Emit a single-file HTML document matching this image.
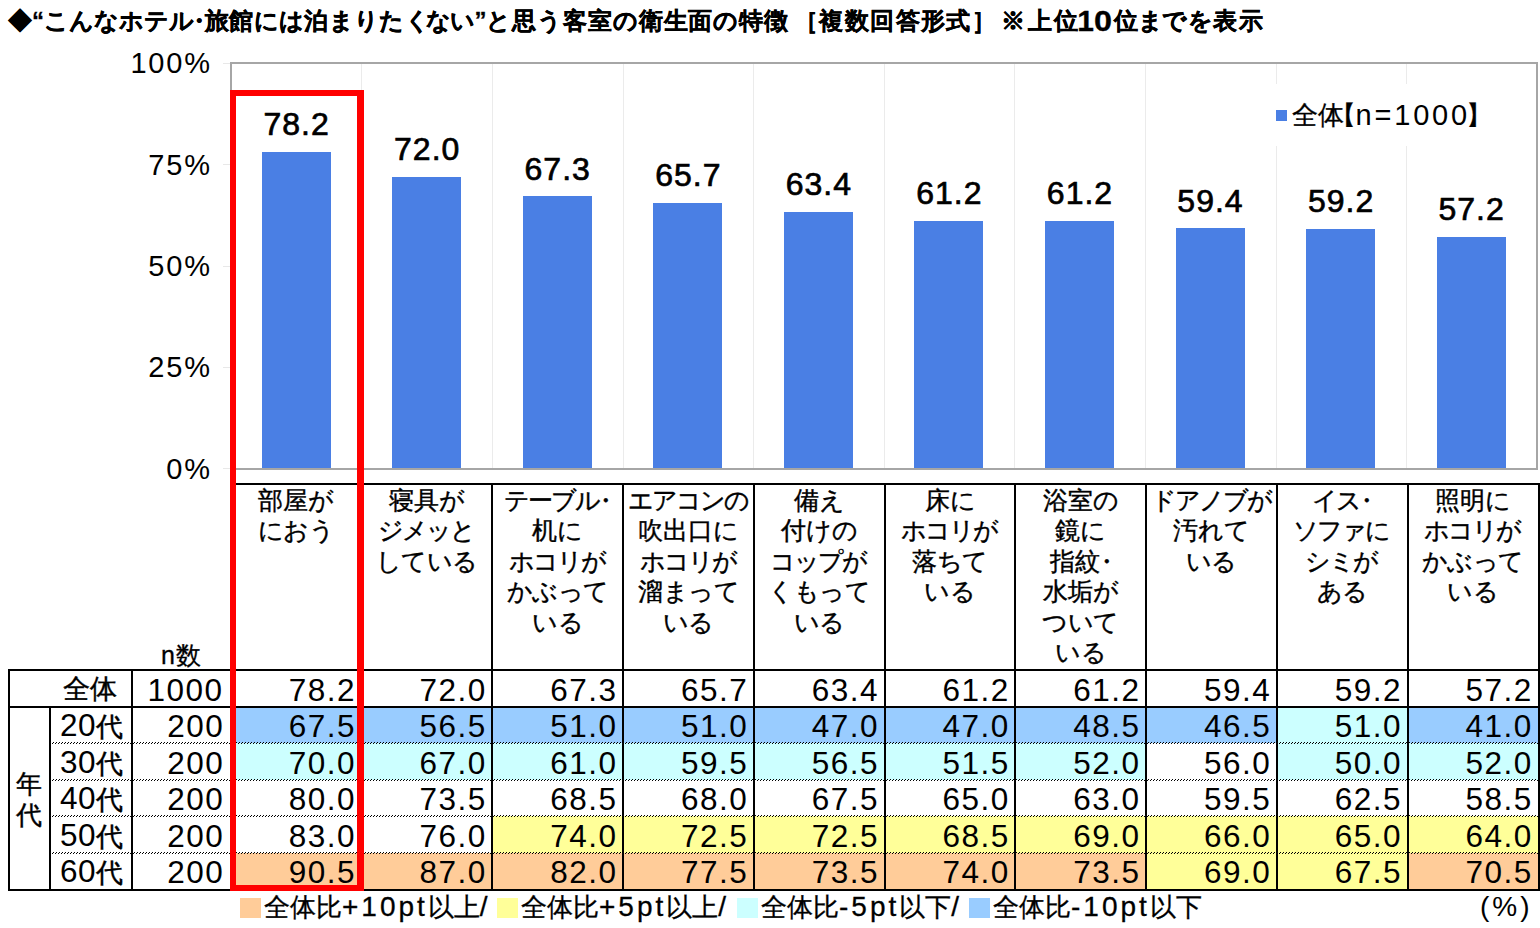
<!DOCTYPE html>
<html><head><meta charset="utf-8"><style>
html,body{margin:0;padding:0;background:#fff;}
body{width:1540px;height:928px;position:relative;overflow:hidden;font-family:"Liberation Sans",sans-serif;color:#000;}
.a{position:absolute;white-space:nowrap;}
.t{position:absolute;white-space:nowrap;font-size:24px;font-weight:bold;line-height:32px;top:5px;-webkit-text-stroke:0.3px #000;}
.yl{position:absolute;font-size:29px;line-height:30px;text-align:right;letter-spacing:1.8px;width:120px;}
.dl{position:absolute;font-size:32px;line-height:34px;text-align:center;width:130px;letter-spacing:1px;-webkit-text-stroke:0.7px #000;}
.bar{position:absolute;background:#4A7FE4;}
.gl{position:absolute;background:#EBEBEB;width:1px;}
.hl{position:absolute;background:#000;}
.cat{position:absolute;top:486px;font-size:24.5px;line-height:30.4px;text-align:center;width:130px;-webkit-text-stroke:0.4px #000;}
.num{position:absolute;font-size:31.5px;line-height:36px;text-align:right;letter-spacing:1.5px;}
.jp{position:absolute;font-size:26.5px;line-height:36px;text-align:right;-webkit-text-stroke:0.4px #000;}
.dot{position:absolute;height:1px;background-image:linear-gradient(90deg,#000 0 1px,transparent 1px 3px);background-size:3px 1px;background-repeat:repeat-x;}
.lg{position:absolute;top:892px;font-size:26px;line-height:30px;-webkit-text-stroke:0.3px #000;}
.L{font-size:28px;letter-spacing:3px;}
</style></head><body>

<div class="t" style="left:8px;">◆“こんなホテル</div>
<div class="t" style="left:187px;">・</div>
<div class="t" style="left:205px;letter-spacing:0.32px">旅館には泊まりたく</div>
<div class="t" style="left:425.6px;letter-spacing:-0.5px">ない”</div>
<div class="t" style="left:486px;letter-spacing:0.93px">と思う客室の衛生面の特徴</div>
<div class="t" style="left:794px;letter-spacing:1.4px">［複数回答形式］</div>
<div class="t" style="left:1001px;letter-spacing:2.5px">※上位</div>
<div class="t" style="left:1077.2px;font-size:30px;top:5px">1</div>
<div class="t" style="left:1093.8px;font-size:30px;top:5px;transform:scaleX(1.08);transform-origin:0 0">0</div>
<div class="t" style="left:1113.5px">位</div>
<div class="t" style="left:1138px">ま</div>
<div class="t" style="left:1162.3px">で</div>
<div class="t" style="left:1188.2px">を</div>
<div class="t" style="left:1212.5px;letter-spacing:2px">表示</div>
<div class="yl" style="left:91.8px;top:48.4px">100%</div>
<div class="a" style="left:223px;top:62.9px;width:8px;height:1px;background:#E8E8E8"></div>
<div class="yl" style="left:91.8px;top:149.8px">75%</div>
<div class="a" style="left:223px;top:164.2px;width:8px;height:1px;background:#E8E8E8"></div>
<div class="yl" style="left:91.8px;top:251.1px">50%</div>
<div class="a" style="left:223px;top:265.6px;width:8px;height:1px;background:#E8E8E8"></div>
<div class="yl" style="left:91.8px;top:352.4px">25%</div>
<div class="a" style="left:223px;top:366.9px;width:8px;height:1px;background:#E8E8E8"></div>
<div class="yl" style="left:91.8px;top:453.8px">0%</div>
<div class="a" style="left:223px;top:468.3px;width:8px;height:1px;background:#E8E8E8"></div>
<div class="gl" style="left:361.1px;top:63.4px;height:405.4px"></div>
<div class="gl" style="left:491.8px;top:63.4px;height:405.4px"></div>
<div class="gl" style="left:622.5px;top:63.4px;height:405.4px"></div>
<div class="gl" style="left:753.1px;top:63.4px;height:405.4px"></div>
<div class="gl" style="left:883.8px;top:63.4px;height:405.4px"></div>
<div class="gl" style="left:1014.4px;top:63.4px;height:405.4px"></div>
<div class="gl" style="left:1145.1px;top:63.4px;height:405.4px"></div>
<div class="gl" style="left:1275.7px;top:63.4px;height:405.4px"></div>
<div class="gl" style="left:1406.4px;top:63.4px;height:405.4px"></div>
<div class="a" style="left:230px;top:61.5px;width:1308px;height:2px;background:#A6A6A6"></div>
<div class="a" style="left:230px;top:61.5px;width:1.6px;height:407px;background:#A6A6A6"></div>
<div class="a" style="left:1536px;top:61.5px;width:2px;height:407px;background:#A6A6A6"></div>
<div class="a" style="left:1262px;top:84.3px;width:230px;height:62px;background:#fff"></div>
<div class="a" style="left:1275.5px;top:110px;width:11.5px;height:11px;background:#4A7FE4"></div>
<div class="a" style="left:1291.5px;top:99.4px;font-size:26px;line-height:32px;-webkit-text-stroke:0.3px #000">全体</div>
<div class="a" style="left:1330px;top:99.4px;font-size:26px;line-height:32px;-webkit-text-stroke:0.3px #000">【</div>
<div class="a" style="left:1355.6px;top:98.7px;font-size:29px;line-height:32px;letter-spacing:2.8px">n=1000</div>
<div class="a" style="left:1466px;top:99.4px;font-size:26px;line-height:32px;-webkit-text-stroke:0.3px #000">】</div>
<div class="bar" style="left:261.6px;top:151.8px;width:69px;height:317.0px"></div>
<div class="dl" style="left:231.6px;top:107.3px">78.2</div>
<div class="bar" style="left:392.2px;top:176.9px;width:69px;height:291.9px"></div>
<div class="dl" style="left:362.2px;top:132.4px">72.0</div>
<div class="bar" style="left:522.7px;top:196.0px;width:69px;height:272.8px"></div>
<div class="dl" style="left:492.7px;top:151.5px">67.3</div>
<div class="bar" style="left:653.3px;top:202.5px;width:69px;height:266.3px"></div>
<div class="dl" style="left:623.3px;top:158.0px">65.7</div>
<div class="bar" style="left:783.8px;top:211.8px;width:69px;height:257.0px"></div>
<div class="dl" style="left:753.8px;top:167.3px">63.4</div>
<div class="bar" style="left:914.4px;top:220.7px;width:69px;height:248.1px"></div>
<div class="dl" style="left:884.4px;top:176.2px">61.2</div>
<div class="bar" style="left:1045.0px;top:220.7px;width:69px;height:248.1px"></div>
<div class="dl" style="left:1015.0px;top:176.2px">61.2</div>
<div class="bar" style="left:1175.5px;top:228.0px;width:69px;height:240.8px"></div>
<div class="dl" style="left:1145.5px;top:183.5px">59.4</div>
<div class="bar" style="left:1306.1px;top:228.8px;width:69px;height:240.0px"></div>
<div class="dl" style="left:1276.1px;top:184.3px">59.2</div>
<div class="bar" style="left:1436.6px;top:236.9px;width:69px;height:231.9px"></div>
<div class="dl" style="left:1406.6px;top:192.4px">57.2</div>
<div class="a" style="left:230px;top:467.6px;width:1308px;height:2px;background:#A6A6A6"></div>
<div class="a" style="left:230.8px;top:706.5px;width:130.7px;height:36.5px;background:#99CCFF"></div>
<div class="a" style="left:361.5px;top:706.5px;width:130.7px;height:36.5px;background:#99CCFF"></div>
<div class="a" style="left:492.3px;top:706.5px;width:130.7px;height:36.5px;background:#99CCFF"></div>
<div class="a" style="left:623.0px;top:706.5px;width:130.7px;height:36.5px;background:#99CCFF"></div>
<div class="a" style="left:753.8px;top:706.5px;width:130.7px;height:36.5px;background:#99CCFF"></div>
<div class="a" style="left:884.5px;top:706.5px;width:130.7px;height:36.5px;background:#99CCFF"></div>
<div class="a" style="left:1015.2px;top:706.5px;width:130.7px;height:36.5px;background:#99CCFF"></div>
<div class="a" style="left:1146.0px;top:706.5px;width:130.7px;height:36.5px;background:#99CCFF"></div>
<div class="a" style="left:1276.7px;top:706.5px;width:130.7px;height:36.5px;background:#CCFFFF"></div>
<div class="a" style="left:1407.5px;top:706.5px;width:130.7px;height:36.5px;background:#99CCFF"></div>
<div class="a" style="left:230.8px;top:743.0px;width:130.7px;height:36.5px;background:#CCFFFF"></div>
<div class="a" style="left:361.5px;top:743.0px;width:130.7px;height:36.5px;background:#CCFFFF"></div>
<div class="a" style="left:492.3px;top:743.0px;width:130.7px;height:36.5px;background:#CCFFFF"></div>
<div class="a" style="left:623.0px;top:743.0px;width:130.7px;height:36.5px;background:#CCFFFF"></div>
<div class="a" style="left:753.8px;top:743.0px;width:130.7px;height:36.5px;background:#CCFFFF"></div>
<div class="a" style="left:884.5px;top:743.0px;width:130.7px;height:36.5px;background:#CCFFFF"></div>
<div class="a" style="left:1015.2px;top:743.0px;width:130.7px;height:36.5px;background:#CCFFFF"></div>
<div class="a" style="left:1276.7px;top:743.0px;width:130.7px;height:36.5px;background:#CCFFFF"></div>
<div class="a" style="left:1407.5px;top:743.0px;width:130.7px;height:36.5px;background:#CCFFFF"></div>
<div class="a" style="left:492.3px;top:816.0px;width:130.7px;height:36.5px;background:#FFFF99"></div>
<div class="a" style="left:623.0px;top:816.0px;width:130.7px;height:36.5px;background:#FFFF99"></div>
<div class="a" style="left:753.8px;top:816.0px;width:130.7px;height:36.5px;background:#FFFF99"></div>
<div class="a" style="left:884.5px;top:816.0px;width:130.7px;height:36.5px;background:#FFFF99"></div>
<div class="a" style="left:1015.2px;top:816.0px;width:130.7px;height:36.5px;background:#FFFF99"></div>
<div class="a" style="left:1146.0px;top:816.0px;width:130.7px;height:36.5px;background:#FFFF99"></div>
<div class="a" style="left:1276.7px;top:816.0px;width:130.7px;height:36.5px;background:#FFFF99"></div>
<div class="a" style="left:1407.5px;top:816.0px;width:130.7px;height:36.5px;background:#FFFF99"></div>
<div class="a" style="left:230.8px;top:852.5px;width:130.7px;height:37.0px;background:#FFCC99"></div>
<div class="a" style="left:361.5px;top:852.5px;width:130.7px;height:37.0px;background:#FFCC99"></div>
<div class="a" style="left:492.3px;top:852.5px;width:130.7px;height:37.0px;background:#FFCC99"></div>
<div class="a" style="left:623.0px;top:852.5px;width:130.7px;height:37.0px;background:#FFCC99"></div>
<div class="a" style="left:753.8px;top:852.5px;width:130.7px;height:37.0px;background:#FFCC99"></div>
<div class="a" style="left:884.5px;top:852.5px;width:130.7px;height:37.0px;background:#FFCC99"></div>
<div class="a" style="left:1015.2px;top:852.5px;width:130.7px;height:37.0px;background:#FFCC99"></div>
<div class="a" style="left:1146.0px;top:852.5px;width:130.7px;height:37.0px;background:#FFFF99"></div>
<div class="a" style="left:1276.7px;top:852.5px;width:130.7px;height:37.0px;background:#FFFF99"></div>
<div class="a" style="left:1407.5px;top:852.5px;width:130.7px;height:37.0px;background:#FFCC99"></div>
<div class="hl" style="left:231.0px;top:483px;width:1308.2px;height:2px"></div>
<div class="hl" style="left:229.8px;top:483px;width:2px;height:407.5px"></div>
<div class="hl" style="left:360.5px;top:483px;width:2px;height:407.5px"></div>
<div class="hl" style="left:491.3px;top:483px;width:2px;height:407.5px"></div>
<div class="hl" style="left:622.0px;top:483px;width:2px;height:407.5px"></div>
<div class="hl" style="left:752.8px;top:483px;width:2px;height:407.5px"></div>
<div class="hl" style="left:883.5px;top:483px;width:2px;height:407.5px"></div>
<div class="hl" style="left:1014.2px;top:483px;width:2px;height:407.5px"></div>
<div class="hl" style="left:1145.0px;top:483px;width:2px;height:407.5px"></div>
<div class="hl" style="left:1275.7px;top:483px;width:2px;height:407.5px"></div>
<div class="hl" style="left:1406.5px;top:483px;width:2px;height:407.5px"></div>
<div class="hl" style="left:1538.0px;top:483px;width:2px;height:407.5px"></div>
<div class="hl" style="left:8.2px;top:669px;width:1531.0px;height:2px"></div>
<div class="hl" style="left:8.2px;top:705.5px;width:1531.0px;height:2px"></div>
<div class="hl" style="left:8.2px;top:888.5px;width:1531.0px;height:2px"></div>
<div class="dot" style="left:50px;top:742.0px;width:1488.2px;"></div>
<div class="dot" style="left:51.5px;top:743.0px;width:1486.7px;"></div>
<div class="dot" style="left:50px;top:778.5px;width:1488.2px;"></div>
<div class="dot" style="left:51.5px;top:779.5px;width:1486.7px;"></div>
<div class="dot" style="left:50px;top:815.0px;width:1488.2px;"></div>
<div class="dot" style="left:51.5px;top:816.0px;width:1486.7px;"></div>
<div class="dot" style="left:50px;top:851.5px;width:1488.2px;"></div>
<div class="dot" style="left:51.5px;top:852.5px;width:1486.7px;"></div>
<div class="hl" style="left:8.2px;top:669px;width:2px;height:221.5px"></div>
<div class="hl" style="left:130.7px;top:669px;width:2px;height:221.5px"></div>
<div class="hl" style="left:48.8px;top:705.5px;width:2px;height:185.0px"></div>
<div class="cat" style="left:230.8px;width:130.7px">部屋<span style="letter-spacing:-0.6px">が</span><br><span style="letter-spacing:-0.6px">に</span><span style="letter-spacing:-0.6px">お</span><span style="letter-spacing:-0.6px">う</span></div>
<div class="cat" style="left:361.5px;width:130.7px">寝具<span style="letter-spacing:-0.6px">が</span><br><span style="letter-spacing:-2px">ジ</span><span style="letter-spacing:-2px">メ</span><span style="letter-spacing:-2px">ッ</span><span style="letter-spacing:-0.6px">と</span><br><span style="letter-spacing:-0.6px">し</span><span style="letter-spacing:-0.6px">て</span><span style="letter-spacing:-0.6px">い</span><span style="letter-spacing:-0.6px">る</span></div>
<div class="cat" style="left:492.3px;width:130.7px"><span style="letter-spacing:-2px">テ</span><span style="letter-spacing:-2px">ー</span><span style="letter-spacing:-2px">ブ</span><span style="letter-spacing:-2px">ル</span><span style="letter-spacing:-7px;margin-left:-6px">・</span><br>机<span style="letter-spacing:-0.6px">に</span><br><span style="letter-spacing:-2px">ホ</span><span style="letter-spacing:-2px">コ</span><span style="letter-spacing:-2px">リ</span><span style="letter-spacing:-0.6px">が</span><br><span style="letter-spacing:-0.6px">か</span><span style="letter-spacing:-0.6px">ぶ</span><span style="letter-spacing:-0.6px">っ</span><span style="letter-spacing:-0.6px">て</span><br><span style="letter-spacing:-0.6px">い</span><span style="letter-spacing:-0.6px">る</span></div>
<div class="cat" style="left:623.0px;width:130.7px"><span style="letter-spacing:-2px">エ</span><span style="letter-spacing:-2px">ア</span><span style="letter-spacing:-2px">コ</span><span style="letter-spacing:-2px">ン</span><span style="letter-spacing:-0.6px">の</span><br>吹出口<span style="letter-spacing:-0.6px">に</span><br><span style="letter-spacing:-2px">ホ</span><span style="letter-spacing:-2px">コ</span><span style="letter-spacing:-2px">リ</span><span style="letter-spacing:-0.6px">が</span><br>溜<span style="letter-spacing:-0.6px">ま</span><span style="letter-spacing:-0.6px">っ</span><span style="letter-spacing:-0.6px">て</span><br><span style="letter-spacing:-0.6px">い</span><span style="letter-spacing:-0.6px">る</span></div>
<div class="cat" style="left:753.8px;width:130.7px">備<span style="letter-spacing:-0.6px">え</span><br>付<span style="letter-spacing:-0.6px">け</span><span style="letter-spacing:-0.6px">の</span><br><span style="letter-spacing:-2px">コ</span><span style="letter-spacing:-2px">ッ</span><span style="letter-spacing:-2px">プ</span><span style="letter-spacing:-0.6px">が</span><br><span style="letter-spacing:-0.6px">く</span><span style="letter-spacing:-0.6px">も</span><span style="letter-spacing:-0.6px">っ</span><span style="letter-spacing:-0.6px">て</span><br><span style="letter-spacing:-0.6px">い</span><span style="letter-spacing:-0.6px">る</span></div>
<div class="cat" style="left:884.5px;width:130.7px">床<span style="letter-spacing:-0.6px">に</span><br><span style="letter-spacing:-2px">ホ</span><span style="letter-spacing:-2px">コ</span><span style="letter-spacing:-2px">リ</span><span style="letter-spacing:-0.6px">が</span><br>落<span style="letter-spacing:-0.6px">ち</span><span style="letter-spacing:-0.6px">て</span><br><span style="letter-spacing:-0.6px">い</span><span style="letter-spacing:-0.6px">る</span></div>
<div class="cat" style="left:1015.2px;width:130.7px">浴室<span style="letter-spacing:-0.6px">の</span><br>鏡<span style="letter-spacing:-0.6px">に</span><br>指紋<span style="letter-spacing:-7px;margin-left:-6px">・</span><br>水垢<span style="letter-spacing:-0.6px">が</span><br><span style="letter-spacing:-0.6px">つ</span><span style="letter-spacing:-0.6px">い</span><span style="letter-spacing:-0.6px">て</span><br><span style="letter-spacing:-0.6px">い</span><span style="letter-spacing:-0.6px">る</span></div>
<div class="cat" style="left:1146.0px;width:130.7px"><span style="letter-spacing:-2px">ド</span><span style="letter-spacing:-2px">ア</span><span style="letter-spacing:-2px">ノ</span><span style="letter-spacing:-2px">ブ</span><span style="letter-spacing:-0.6px">が</span><br>汚<span style="letter-spacing:-0.6px">れ</span><span style="letter-spacing:-0.6px">て</span><br><span style="letter-spacing:-0.6px">い</span><span style="letter-spacing:-0.6px">る</span></div>
<div class="cat" style="left:1276.7px;width:130.7px"><span style="letter-spacing:-2px">イ</span><span style="letter-spacing:-2px">ス</span><span style="letter-spacing:-7px;margin-left:-6px">・</span><br><span style="letter-spacing:-2px">ソ</span><span style="letter-spacing:-2px">フ</span><span style="letter-spacing:-2px">ァ</span><span style="letter-spacing:-0.6px">に</span><br><span style="letter-spacing:-2px">シ</span><span style="letter-spacing:-2px">ミ</span><span style="letter-spacing:-0.6px">が</span><br><span style="letter-spacing:-0.6px">あ</span><span style="letter-spacing:-0.6px">る</span></div>
<div class="cat" style="left:1407.5px;width:130.7px">照明<span style="letter-spacing:-0.6px">に</span><br><span style="letter-spacing:-2px">ホ</span><span style="letter-spacing:-2px">コ</span><span style="letter-spacing:-2px">リ</span><span style="letter-spacing:-0.6px">が</span><br><span style="letter-spacing:-0.6px">か</span><span style="letter-spacing:-0.6px">ぶ</span><span style="letter-spacing:-0.6px">っ</span><span style="letter-spacing:-0.6px">て</span><br><span style="letter-spacing:-0.6px">い</span><span style="letter-spacing:-0.6px">る</span></div>
<div class="a" style="left:161px;top:640px;font-size:25px;line-height:30px;letter-spacing:1px;-webkit-text-stroke:0.3px #000">n数</div>
<div class="jp" style="left:0px;width:117px;top:671px">全体</div>
<div class="num" style="left:103.5px;width:120px;top:671.5px">1000</div>
<div class="num" style="left:236.1px;width:120px;top:671.5px">78.2</div>
<div class="num" style="left:366.9px;width:120px;top:671.5px">72.0</div>
<div class="num" style="left:497.6px;width:120px;top:671.5px">67.3</div>
<div class="num" style="left:628.4px;width:120px;top:671.5px">65.7</div>
<div class="num" style="left:759.1px;width:120px;top:671.5px">63.4</div>
<div class="num" style="left:889.8px;width:120px;top:671.5px">61.2</div>
<div class="num" style="left:1020.6px;width:120px;top:671.5px">61.2</div>
<div class="num" style="left:1151.3px;width:120px;top:671.5px">59.4</div>
<div class="num" style="left:1282.1px;width:120px;top:671.5px">59.2</div>
<div class="num" style="left:1412.8px;width:120px;top:671.5px">57.2</div>
<div class="a" style="left:60px;top:707.0px;font-size:31.5px;line-height:36px;letter-spacing:0.5px">20<span style="font-size:27px;letter-spacing:0;-webkit-text-stroke:0.4px #000">代</span></div>
<div class="num" style="left:104.2px;width:120px;top:708.0px">200</div>
<div class="num" style="left:236.1px;width:120px;top:708.0px">67.5</div>
<div class="num" style="left:366.9px;width:120px;top:708.0px">56.5</div>
<div class="num" style="left:497.6px;width:120px;top:708.0px">51.0</div>
<div class="num" style="left:628.4px;width:120px;top:708.0px">51.0</div>
<div class="num" style="left:759.1px;width:120px;top:708.0px">47.0</div>
<div class="num" style="left:889.8px;width:120px;top:708.0px">47.0</div>
<div class="num" style="left:1020.6px;width:120px;top:708.0px">48.5</div>
<div class="num" style="left:1151.3px;width:120px;top:708.0px">46.5</div>
<div class="num" style="left:1282.1px;width:120px;top:708.0px">51.0</div>
<div class="num" style="left:1412.8px;width:120px;top:708.0px">41.0</div>
<div class="a" style="left:60px;top:743.5px;font-size:31.5px;line-height:36px;letter-spacing:0.5px">30<span style="font-size:27px;letter-spacing:0;-webkit-text-stroke:0.4px #000">代</span></div>
<div class="num" style="left:104.2px;width:120px;top:744.5px">200</div>
<div class="num" style="left:236.1px;width:120px;top:744.5px">70.0</div>
<div class="num" style="left:366.9px;width:120px;top:744.5px">67.0</div>
<div class="num" style="left:497.6px;width:120px;top:744.5px">61.0</div>
<div class="num" style="left:628.4px;width:120px;top:744.5px">59.5</div>
<div class="num" style="left:759.1px;width:120px;top:744.5px">56.5</div>
<div class="num" style="left:889.8px;width:120px;top:744.5px">51.5</div>
<div class="num" style="left:1020.6px;width:120px;top:744.5px">52.0</div>
<div class="num" style="left:1151.3px;width:120px;top:744.5px">56.0</div>
<div class="num" style="left:1282.1px;width:120px;top:744.5px">50.0</div>
<div class="num" style="left:1412.8px;width:120px;top:744.5px">52.0</div>
<div class="a" style="left:60px;top:780.0px;font-size:31.5px;line-height:36px;letter-spacing:0.5px">40<span style="font-size:27px;letter-spacing:0;-webkit-text-stroke:0.4px #000">代</span></div>
<div class="num" style="left:104.2px;width:120px;top:781.0px">200</div>
<div class="num" style="left:236.1px;width:120px;top:781.0px">80.0</div>
<div class="num" style="left:366.9px;width:120px;top:781.0px">73.5</div>
<div class="num" style="left:497.6px;width:120px;top:781.0px">68.5</div>
<div class="num" style="left:628.4px;width:120px;top:781.0px">68.0</div>
<div class="num" style="left:759.1px;width:120px;top:781.0px">67.5</div>
<div class="num" style="left:889.8px;width:120px;top:781.0px">65.0</div>
<div class="num" style="left:1020.6px;width:120px;top:781.0px">63.0</div>
<div class="num" style="left:1151.3px;width:120px;top:781.0px">59.5</div>
<div class="num" style="left:1282.1px;width:120px;top:781.0px">62.5</div>
<div class="num" style="left:1412.8px;width:120px;top:781.0px">58.5</div>
<div class="a" style="left:60px;top:816.5px;font-size:31.5px;line-height:36px;letter-spacing:0.5px">50<span style="font-size:27px;letter-spacing:0;-webkit-text-stroke:0.4px #000">代</span></div>
<div class="num" style="left:104.2px;width:120px;top:817.5px">200</div>
<div class="num" style="left:236.1px;width:120px;top:817.5px">83.0</div>
<div class="num" style="left:366.9px;width:120px;top:817.5px">76.0</div>
<div class="num" style="left:497.6px;width:120px;top:817.5px">74.0</div>
<div class="num" style="left:628.4px;width:120px;top:817.5px">72.5</div>
<div class="num" style="left:759.1px;width:120px;top:817.5px">72.5</div>
<div class="num" style="left:889.8px;width:120px;top:817.5px">68.5</div>
<div class="num" style="left:1020.6px;width:120px;top:817.5px">69.0</div>
<div class="num" style="left:1151.3px;width:120px;top:817.5px">66.0</div>
<div class="num" style="left:1282.1px;width:120px;top:817.5px">65.0</div>
<div class="num" style="left:1412.8px;width:120px;top:817.5px">64.0</div>
<div class="a" style="left:60px;top:853.0px;font-size:31.5px;line-height:36px;letter-spacing:0.5px">60<span style="font-size:27px;letter-spacing:0;-webkit-text-stroke:0.4px #000">代</span></div>
<div class="num" style="left:104.2px;width:120px;top:854.0px">200</div>
<div class="num" style="left:236.1px;width:120px;top:854.0px">90.5</div>
<div class="num" style="left:366.9px;width:120px;top:854.0px">87.0</div>
<div class="num" style="left:497.6px;width:120px;top:854.0px">82.0</div>
<div class="num" style="left:628.4px;width:120px;top:854.0px">77.5</div>
<div class="num" style="left:759.1px;width:120px;top:854.0px">73.5</div>
<div class="num" style="left:889.8px;width:120px;top:854.0px">74.0</div>
<div class="num" style="left:1020.6px;width:120px;top:854.0px">73.5</div>
<div class="num" style="left:1151.3px;width:120px;top:854.0px">69.0</div>
<div class="num" style="left:1282.1px;width:120px;top:854.0px">67.5</div>
<div class="num" style="left:1412.8px;width:120px;top:854.0px">70.5</div>
<div class="a" style="left:9px;width:40px;top:769px;font-size:26px;line-height:31px;text-align:center;white-space:normal;-webkit-text-stroke:0.4px #000">年<br>代</div>
<div class="a" style="left:230px;top:90px;width:133.5px;height:5.5px;background:#F00"></div>
<div class="a" style="left:230px;top:90px;width:5.8px;height:800.5px;background:#F00"></div>
<div class="a" style="left:357px;top:90px;width:6.5px;height:800.5px;background:#F00"></div>
<div class="a" style="left:230px;top:884.6px;width:133.5px;height:6px;background:#F00"></div>
<div class="a" style="left:240px;top:898px;width:21px;height:20px;background:#FFCC99"></div>
<div class="lg" style="left:264px;">全体比<span class=L>+10pt</span>以上<span class=L>/</span></div>
<div class="a" style="left:497px;top:898px;width:21px;height:20px;background:#FFFF99"></div>
<div class="lg" style="left:521px;">全体比<span class=L>+5pt</span>以上<span class=L>/</span></div>
<div class="a" style="left:737px;top:898px;width:21px;height:20px;background:#CCFFFF"></div>
<div class="lg" style="left:761px;">全体比<span class=L>-5pt</span>以下<span class=L>/</span></div>
<div class="a" style="left:969px;top:898px;width:21px;height:20px;background:#99CCFF"></div>
<div class="lg" style="left:993px;">全体比<span class=L>-10pt</span>以下</div>
<div class="a" style="left:1480px;top:891px;font-size:28px;line-height:32px;letter-spacing:3px">(%)</div>
</body></html>
